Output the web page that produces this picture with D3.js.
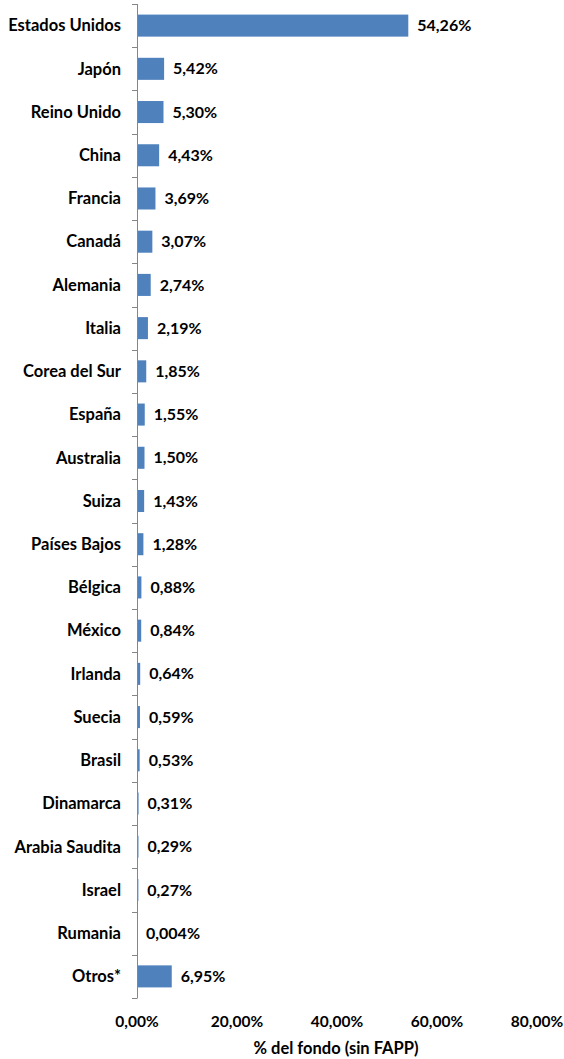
<!DOCTYPE html>
<html>
<head>
<meta charset="utf-8">
<script src="https://cdn.jsdelivr.net/npm/d3@7"></script>
<style>
  body { margin: 0; background: #fff; }
  text { font-family: Lato, "Open Sans", sans-serif; font-weight: bold; fill: #000; }
</style>
</head>
<body>
<div id="chart"></div>
<script>
// datos del grafico
var paises = ["Estados Unidos", "Japón", "Reino Unido", "China", "Francia", "Canadá",
  "Alemania", "Italia", "Corea del Sur", "España", "Australia", "Suiza", "Países Bajos",
  "Bélgica", "México", "Irlanda", "Suecia", "Brasil", "Dinamarca", "Arabia Saudita",
  "Israel", "Rumania", "Otros*"];
var porcentajes = [54.26, 5.42, 5.30, 4.43, 3.69, 3.07, 2.74, 2.19, 1.85, 1.55, 1.50,
  1.43, 1.28, 0.88, 0.84, 0.64, 0.59, 0.53, 0.31, 0.29, 0.27, 0.004, 6.95];
var ticksX = [0, 20, 40, 60, 80];
var tituloX = "% del fondo (sin FAPP)";

var width = 564, height = 1059;
var mLeft = 137, mRight = 537, mTop = 4, mBottom = 998;

var svg = d3.select("#chart").append("svg")
  .attr("width", width).attr("height", height);

var x = d3.scaleLinear().domain([0, 80]).range([mLeft, mRight]);
var y = d3.scaleBand().domain(paises).range([mTop, mBottom]).paddingInner(0.49).paddingOuter(0.245);

function fmt(v) {
  return v.toFixed(v > 0 && v < 0.01 ? 3 : 2).replace(".", ",") + "%";
}

// barras
svg.selectAll("rect.bar").data(paises)
  .enter().append("rect")
    .attr("class", "bar")
    .attr("x", x(0))
    .attr("y", function(d) { return y(d); })
    .attr("width", function(d, i) { return x(porcentajes[i]) - x(0); })
    .attr("height", y.bandwidth())
    .attr("fill", "#4f81bd");

// etiquetas de valores
svg.selectAll("text.val").data(paises)
  .enter().append("text")
    .attr("class", "val")
    .attr("x", function(d, i) { return x(porcentajes[i]) + 9; })
    .attr("y", function(d) { return y(d) + y.bandwidth() / 2; })
    .attr("dy", "0.35em")
    .attr("font-size", 16)
    .text(function(d, i) { return fmt(porcentajes[i]); });

// eje vertical con marcas entre categorias
var step = (mBottom - mTop) / paises.length;
svg.append("line")
  .attr("x1", mLeft + 0.5).attr("x2", mLeft + 0.5)
  .attr("y1", mTop).attr("y2", mBottom)
  .attr("stroke", "#868686");
svg.selectAll("line.tick").data(d3.range(paises.length + 1))
  .enter().append("line")
    .attr("class", "tick")
    .attr("x1", mLeft - 5).attr("x2", mLeft + 0.5)
    .attr("y1", function(i) { return Math.round(mTop + i * step) + 0.5; })
    .attr("y2", function(i) { return Math.round(mTop + i * step) + 0.5; })
    .attr("stroke", "#868686");

// nombres de paises
svg.selectAll("text.cat").data(paises)
  .enter().append("text")
    .attr("class", "cat")
    .attr("x", 121)
    .attr("y", function(d) { return y(d) + y.bandwidth() / 2; })
    .attr("dy", "0.35em")
    .attr("text-anchor", "end")
    .attr("font-size", 16.5)
    .text(function(d) { return d; });

// eje horizontal (solo etiquetas)
svg.selectAll("text.xt").data(ticksX)
  .enter().append("text")
    .attr("class", "xt")
    .attr("x", function(d) { return x(d); })
    .attr("y", 1022)
    .attr("dy", "0.35em")
    .attr("text-anchor", "middle")
    .attr("font-size", 15.5)
    .text(function(d) { return fmt(d); });

svg.append("text")
  .attr("x", 336).attr("y", 1048)
  .attr("dy", "0.35em")
  .attr("text-anchor", "middle")
  .attr("font-size", 16.5)
  .text(tituloX);
</script>
</body>
</html>
